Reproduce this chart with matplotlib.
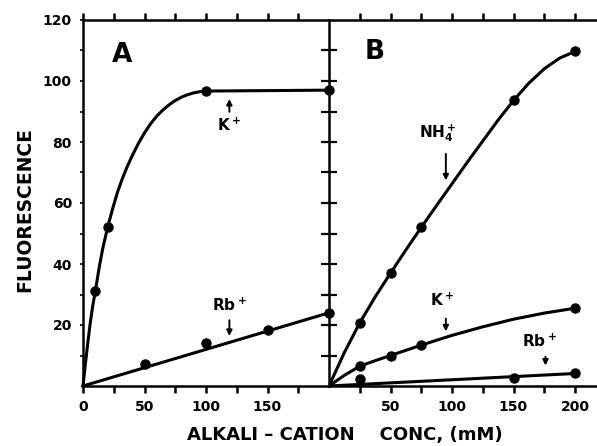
import matplotlib
matplotlib.use("Agg")
import matplotlib.pyplot as plt

plt.rcParams['font.family'] = 'DejaVu Sans'
plt.rcParams['font.weight'] = 'bold'
plt.rcParams['mathtext.default'] = 'bf'

# panel A - measured points
a_k_x = [10, 20, 100, 200]
a_k_y = [31, 52, 96.7, 97]
a_rb_x = [50, 100, 150, 200]
a_rb_y = [7.3, 14.2, 18.3, 23.8]

# panel A - drawn curves
a_k_curve_x = [0, 2, 4, 6, 8, 10, 13, 16, 20, 24, 28, 32, 36, 40, 45, 50, 55, 60, 65, 70, 75,
               80, 85, 90, 95, 100, 200]
a_k_curve_y = [0, 7.5, 14.5, 21, 26.5, 31, 38.5, 45, 52, 58, 63.5, 68, 72, 75.5, 79.5, 83,
               86, 88.5, 90.5, 92.2, 93.6, 94.7, 95.5, 96.1, 96.5, 96.7, 97]
a_rb_curve_x = [0, 200]
a_rb_curve_y = [0, 24]

# panel B - measured points
b_nh4_x = [25, 50, 75, 150, 200]
b_nh4_y = [20.7, 37, 52, 93.7, 109.7]
b_k_x = [25, 50, 75, 200]
b_k_y = [6.6, 9.8, 13.4, 25.5]
b_rb_x = [25, 150, 200]
b_rb_y = [2.2, 2.5, 4.1]

# panel B - drawn curves
b_nh4_curve_x = [0, 12.5, 25, 37.5, 50, 62.5, 75, 87.5, 100, 112.5, 125, 137.5, 150, 162.5,
                 175, 187.5, 200]
b_nh4_curve_y = [0, 11, 20.7, 29.2, 37, 44.6, 52, 59.2, 66.3, 73.4, 80.3, 87.2, 93.6, 99.3,
                 104, 107.5, 109.7]
b_k_curve_x = [0, 12.5, 25, 37.5, 50, 62.5, 75, 100, 125, 150, 175, 200]
b_k_curve_y = [0, 3.5, 6.5, 8.3, 10, 11.7, 13.4, 16.6, 19.4, 21.9, 23.9, 25.5]
b_rb_curve_x = [0, 200]
b_rb_curve_y = [0, 4.1]

fig = plt.figure(figsize=(5.97, 4.46), dpi=100)
axA = fig.add_axes([83/597, 60/446, 246/597, 366/446])
axB = fig.add_axes([329/597, 60/446, 268/597, 366/446])
axB.set_facecolor('none')

lw = 2.2
ms = 6.5

for ax in (axA, axB):
    ax.set_ylim(0, 120)
    for s in ax.spines.values():
        s.set_linewidth(1.8)
    ax.tick_params(axis='x', which='both', direction='out', length=5, width=1.8,
                   top=True, labelsize=10, pad=5)

axA.set_xlim(0, 200)
axB.set_xlim(0, 268/1.23)
axB.spines['right'].set_visible(False)
axB.spines['left'].set_visible(False)

axA.plot(a_k_curve_x, a_k_curve_y, 'k-', lw=lw, clip_on=False)
axA.plot(a_k_x, a_k_y, 'ko', ms=ms, clip_on=False)
axA.plot(a_rb_curve_x, a_rb_curve_y, 'k-', lw=lw, clip_on=False)
axA.plot(a_rb_x, a_rb_y, 'ko', ms=ms, clip_on=False)

axB.plot(b_nh4_curve_x, b_nh4_curve_y, 'k-', lw=lw)
axB.plot(b_nh4_x, b_nh4_y, 'ko', ms=ms)
axB.plot(b_k_curve_x, b_k_curve_y, 'k-', lw=lw)
axB.plot(b_k_x, b_k_y, 'ko', ms=ms)
axB.plot(b_rb_curve_x, b_rb_curve_y, 'k-', lw=lw)
axB.plot(b_rb_x, b_rb_y, 'ko', ms=ms)

# x ticks
axA.set_xticks([0, 25, 50, 75, 100, 125, 150, 175])
axA.set_xticklabels(['0', '', '50', '', '100', '', '150', ''])
axB.set_xticks([25, 50, 75, 100, 125, 150, 175, 200])
axB.set_xticklabels(['', '50', '', '100', '', '150', '', '200'])

# y ticks: small outward on the left, crossing ticks on the divider
axA.set_yticks([10, 20, 30, 40, 50, 60, 70, 80, 90, 100, 110, 120])
axA.set_yticklabels(['', '20', '', '40', '', '60', '', '80', '', '100', '', '120'])
axA.tick_params(axis='y', left=True, right=False, direction='out', length=2, width=1.2,
                labelsize=10, pad=6)
axB.set_yticks([10, 20, 30, 40, 50, 60, 70, 80, 90, 100, 110])
axB.tick_params(axis='y', left=True, right=False, labelleft=False, direction='inout',
                length=12, width=1.6)

# annotations
arr = dict(arrowstyle='-|>', lw=1.4, color='k', mutation_scale=8)
axA.text(32, 108.5, 'A', fontsize=19, ha='center', va='center')
axB.text(37, 109.5, 'B', fontsize=19, ha='center', va='center')

axA.annotate('', xy=(119, 95), xytext=(119, 89), arrowprops=arr)
axA.text(119, 85.5, r'K$^+$', fontsize=11, ha='center', va='center')
axA.annotate('', xy=(119, 15.5), xytext=(119, 22.5), arrowprops=arr)
axA.text(119, 26.5, r'Rb$^+$', fontsize=11, ha='center', va='center')

axB.text(88, 83, r'NH$_4^+$', fontsize=11, ha='center', va='center')
axB.annotate('', xy=(95, 66.5), xytext=(95, 77), arrowprops=arr)
axB.text(92, 28, r'K$^+$', fontsize=11, ha='center', va='center')
axB.annotate('', xy=(95, 17), xytext=(95, 23), arrowprops=arr)
axB.text(171, 14.5, r'Rb$^+$', fontsize=11, ha='center', va='center')
axB.annotate('', xy=(176, 5.8), xytext=(176, 10.5), arrowprops=arr)

fig.text(345/597, 1 - 435/446, 'ALKALI \u2013 CATION    CONC, (mM)', fontsize=13,
         ha='center', va='center')
fig.text(25/597, 1 - 210/446, 'FLUORESCENCE', fontsize=13.5, rotation=90,
         ha='center', va='center')

fig.savefig('out.png', dpi=100)
